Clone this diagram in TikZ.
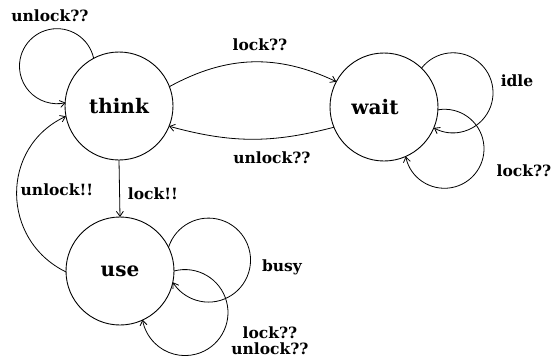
\documentclass[tikz,border=0pt]{standalone}
\usepackage{fontspec}
\setmainfont{DejaVu Serif}
\usetikzlibrary{arrows.meta}
\begin{document}
\begin{tikzpicture}[x=1pt,y=1pt,
  state/.style={circle,draw,line width=0.9pt,minimum size=108pt,inner sep=0pt,outer sep=0pt,
    font=\fontsize{20}{24}\selectfont\bfseries},
  lbl/.style={font=\fontsize{15.5}{18}\selectfont\bfseries,inner sep=0pt,align=center},
  edge/.style={draw,line width=0.8pt,-{Straight Barb[length=5pt,width=7pt]}}]
\path[use as bounding box] (0,0) rectangle (555,360);
% states
\node[state] (think) at (119,254) {think};
\node[state] (wait) at (384,253) {\kern-18pt wait};
\node[state] (use) at (120,89) {use};
% self loops
\draw[edge] (think.118.5) arc[start angle=12.1,end angle=283.2,radius=37.5];
\draw[edge] (wait.46) arc[start angle=142,end angle=-118.7,radius=40];
\draw[edge] (wait.-3) arc[start angle=99.6,end angle=-168.8,radius=39.5];
\draw[edge] (use.26) arc[start angle=162.3,end angle=-148.2,radius=42];
\draw[edge] (use.-0.5) arc[start angle=104.8,end angle=-170.5,radius=43];
% transitions
\draw[edge] (think.21) to[bend left=27] (wait.152);
\draw[edge] (wait.202) to[bend left=15] (think.-22);
\draw[edge] (think.south) -- (use.north);
\draw[edge] (use.181) to[out=154,in=205,looseness=1.2] (think.191);
% labels
\node[lbl] (l1) at (50,344) {unlock??};
\node[lbl] (l2) at (260,315) {lock??};
\node[lbl] (l3) at (272,202) {unlock??};
\node[lbl] (l4) at (517,279) {idle};
\node[lbl] (l5) at (524,189) {lock??};
\node[lbl] (l6) at (153,166) {lock!!};
\node[lbl] (l7) at (57,170) {unlock!!};
\node[lbl] (l8) at (282,93) {busy};
\node[lbl] (l9) at (270,19) {lock??\\[-2pt]unlock??};
\end{tikzpicture}
\end{document}
